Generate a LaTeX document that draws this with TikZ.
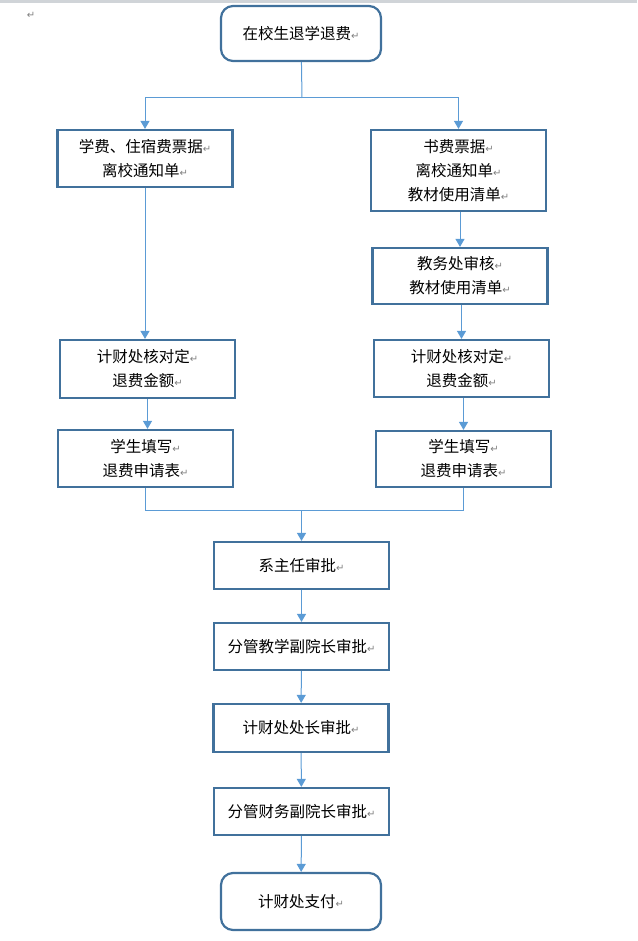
\documentclass[tikz,border=0pt]{standalone}
\usepackage{xcolor}
\usepackage{fontspec}
\setmainfont{Noto Sans CJK SC}
\newfontfamily\symfont{DejaVu Sans}
\usepackage{tikz}
\usetikzlibrary{positioning,calc,arrows.meta}

\definecolor{boxline}{HTML}{41719C}
\definecolor{linkline}{HTML}{5B9BD5}
\definecolor{topbar}{HTML}{D0D4D8}
\newcommand{\retmark}{{\color{gray}\fontsize{10}{10}\selectfont\symfont ↵}}

\begin{document}
\begin{tikzpicture}[x=1pt,y=-1pt,
    stage/.style={draw=boxline, line width=2.2pt, fill=white, minimum width=175pt,
        inner sep=0pt, align=center, font=\fontsize{15.5}{24}\selectfont},
    endstage/.style={stage, rounded corners=12pt, minimum width=160pt, minimum height=55pt},
    link/.style={draw=linkline, line width=1pt},
    flow/.style={link, -{Triangle[width=9pt,length=8pt]}}]
    \useasboundingbox (0,0) rectangle (637,941);
    \fill[topbar] (0,0) rectangle (637,3);
    \node[font=\fontsize{15.5}{24}\selectfont] (mark) at (31,15) {\retmark};

    % Start
    \node[endstage] (start) at (301,33.5) {在校生退学退费\retmark};

    % Left branch
    \node[stage, minimum height=57pt] (left1) at (145,158.5) {学费、住宿费票据\retmark\\离校通知单\retmark};
    \node[stage, minimum height=58pt] (left2) at (147.5,369) {计财处核对定\retmark\\退费金额\retmark};
    \node[stage, minimum height=57pt] (left3) at (145.5,458.5) {学生填写\retmark\\退费申请表\retmark};

    % Right branch
    \node[stage, minimum height=81pt] (right1) at (458.5,170.5) {书费票据\retmark\\离校通知单\retmark\\教材使用清单\retmark};
    \node[stage, minimum height=56pt] (right2) at (460,276) {教务处审核\retmark\\教材使用清单\retmark};
    \node[stage, minimum height=57pt] (right3) at (461.5,368.5) {计财处核对定\retmark\\退费金额\retmark};
    \node[stage, minimum height=56pt] (right4) at (463.5,459) {学生填写\retmark\\退费申请表\retmark};

    % Approval chain
    \node[stage, minimum height=47pt] (head) at (301.5,565.5) {系主任审批\retmark};
    \node[stage, minimum height=47pt] (teach) at (301.5,646.5) {分管教学副院长审批\retmark};
    \node[stage, minimum height=48pt] (chief) at (301,728) {计财处处长审批\retmark};
    \node[stage, minimum height=47pt] (money) at (301.5,811.5) {分管财务副院长审批\retmark};
    \node[endstage, minimum height=57pt] (pay) at (301,901.5) {计财处支付\retmark};

    % Connectors
    \coordinate (split) at (302,98);
    \coordinate (join) at (303,510);
    \draw[link] (start) -- (split);
    \draw[flow] (split) -| (left1.north);
    \draw[flow] (split) -| (right1.north);
    \draw[flow] (left1.south) -- (left1.south |- left2.north);
    \draw[flow] (right2.north |- right1.south) -- (right2.north);
    \draw[flow] (right3.north |- right2.south) -- (right3.north);
    \draw[flow] (left2.south) -- (left2.south |- left3.north);
    \draw[flow] (right4.north |- right3.south) -- (right4.north);
    \draw[link] (left3.south) |- (join);
    \draw[link] (right4.south) |- (join);
    \draw[flow] (join) -- (head.north |- join) -- (head.north);
    \draw[flow] (head) -- (teach);
    \draw[flow] (teach) -- (chief);
    \draw[flow] (chief) -- (money);
    \draw[flow] (money) -- (pay);
\end{tikzpicture}
\end{document}
